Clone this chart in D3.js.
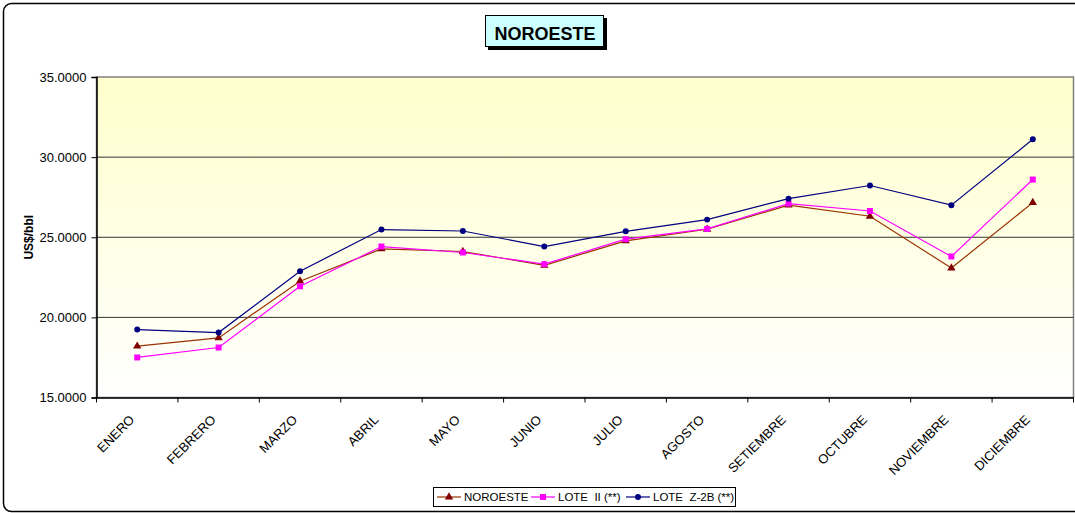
<!DOCTYPE html>
<html>
<head>
<meta charset="utf-8">
<script src="https://cdn.jsdelivr.net/npm/d3@7"></script>
<style>
  body { margin: 0; background: #fff; }
  svg { display: block; font-family: Arial, "Liberation Sans", sans-serif; }
</style>
</head>
<body>
<svg id="chart"></svg>
<script>
// data
const months = ['ENERO', 'FEBRERO', 'MARZO', 'ABRIL', 'MAYO', 'JUNIO', 'JULIO',
  'AGOSTO', 'SETIEMBRE', 'OCTUBRE', 'NOVIEMBRE', 'DICIEMBRE'];
const noroeste = [18.20, 18.72, 22.26, 24.27, 24.11, 23.25, 24.77, 25.50, 27.00, 26.31, 23.08, 27.16];
const loteII = [17.50, 18.12, 21.94, 24.42, 24.05, 23.32, 24.88, 25.52, 27.10, 26.64, 23.80, 28.60];
const loteZ2B = [19.24, 19.05, 22.88, 25.48, 25.39, 24.42, 25.37, 26.10, 27.41, 28.23, 27.00, 31.11];
const yTicks = [15, 20, 25, 30, 35];

const series = [
  { name: 'NOROESTE', values: noroeste, line: '#993300', fill: '#800000', shape: 'triangle' },
  { name: 'LOTE  II (**)', values: loteII, line: '#ff00ff', fill: '#ff00ff', shape: 'square' },
  { name: 'LOTE  Z-2B (**)', values: loteZ2B, line: '#000080', fill: '#000080', shape: 'circle' }
];

// set up constants
const width = 1075;
const height = 513;
const plot = { left: 96.5, right: 1073.5, top: 77, bottom: 397.5 };

const svg = d3.select('#chart')
  .attr('width', width)
  .attr('height', height);

// chart border
svg.append('rect')
  .attr('x', 3.5).attr('y', 3.5)
  .attr('width', 1085).attr('height', 508)
  .attr('rx', 8)
  .attr('fill', '#fff')
  .attr('stroke', '#000')
  .attr('stroke-width', 1.5);

// scales
const xScale = d3.scaleBand()
  .domain(months)
  .range([plot.left, plot.right]);

const yScale = d3.scaleLinear()
  .domain([15, 35])
  .range([plot.bottom, plot.top]);

// plot background gradient
const grad = svg.append('defs').append('linearGradient')
  .attr('id', 'bg')
  .attr('x1', 0).attr('y1', 0).attr('x2', 0).attr('y2', 1);
grad.append('stop').attr('offset', '0%').attr('stop-color', '#ffffcc');
grad.append('stop').attr('offset', '100%').attr('stop-color', '#ffffff');

svg.append('rect')
  .attr('x', plot.left).attr('y', plot.top)
  .attr('width', plot.right - plot.left)
  .attr('height', plot.bottom - plot.top)
  .attr('fill', 'url(#bg)')
  .attr('stroke', '#808080')
  .attr('stroke-width', 1.5);

// gridlines
svg.append('g')
  .selectAll('line')
  .data(yTicks.filter(d => d > 15 && d < 35))
  .enter()
  .append('line')
  .attr('x1', plot.left).attr('x2', plot.right)
  .attr('y1', d => yScale(d)).attr('y2', d => yScale(d))
  .attr('stroke', '#333')
  .attr('stroke-width', 1);

// y axis
const yAxis = d3.axisLeft(yScale)
  .tickValues(yTicks)
  .tickFormat(d3.format('.4f'))
  .tickSize(5)
  .tickPadding(5);

const gy = svg.append('g')
  .attr('transform', `translate(${plot.left}, 0)`)
  .call(yAxis);
gy.select('.domain').attr('stroke', '#000').attr('stroke-width', 1.5);
gy.selectAll('.tick line').attr('stroke', '#000');
gy.selectAll('.tick text')
  .attr('font-size', 13)
  .attr('font-family', 'Arial, "Liberation Sans", sans-serif')
  .attr('fill', '#000');

// x axis
const xAxis = d3.axisBottom(xScale).tickSize(0).tickFormat('');
const gx = svg.append('g')
  .attr('transform', `translate(0, ${plot.bottom})`)
  .call(xAxis);
gx.select('.domain').attr('stroke', '#000').attr('stroke-width', 1.5);

// tick marks between categories
svg.append('g')
  .selectAll('line')
  .data(d3.range(months.length + 1))
  .enter()
  .append('line')
  .attr('x1', i => plot.left + i * xScale.bandwidth())
  .attr('x2', i => plot.left + i * xScale.bandwidth())
  .attr('y1', plot.bottom)
  .attr('y2', plot.bottom + 5)
  .attr('stroke', '#000');

// x labels rotated
svg.append('g')
  .selectAll('text')
  .data(months)
  .enter()
  .append('text')
  .attr('transform', d => `translate(${xScale(d) + xScale.bandwidth() / 2 - 2}, ${plot.bottom + 23}) rotate(-45)`)
  .attr('text-anchor', 'end')
  .attr('font-size', 13)
  .text(d => d);

// y axis title
svg.append('text')
  .attr('transform', `translate(33, ${yScale(25)}) rotate(-90)`)
  .attr('text-anchor', 'middle')
  .attr('font-size', 12)
  .attr('font-weight', 'bold')
  .text('US$/bbl');

// lines and markers
const xPos = (i) => xScale(months[i]) + xScale.bandwidth() / 2;
const lineGen = d3.line()
  .x((d, i) => xPos(i))
  .y(d => yScale(d));

const symbolFor = {
  triangle: d3.symbol().type(d3.symbolTriangle).size(30),
  square: d3.symbol().type(d3.symbolSquare).size(36),
  circle: d3.symbol().type(d3.symbolCircle).size(28)
};

series.forEach(s => {
  svg.append('path')
    .datum(s.values)
    .attr('d', lineGen)
    .attr('fill', 'none')
    .attr('stroke', s.line)
    .attr('stroke-width', 1.2);
});

series.forEach(s => {
  svg.append('g')
    .selectAll('path')
    .data(s.values)
    .enter()
    .append('path')
    .attr('d', symbolFor[s.shape])
    .attr('transform', (d, i) => `translate(${xPos(i)}, ${yScale(d)})`)
    .attr('fill', s.fill);
});

// title box
const title = svg.append('g');
title.append('rect')
  .attr('x', 488).attr('y', 18)
  .attr('width', 119).attr('height', 32)
  .attr('fill', '#000');
title.append('rect')
  .attr('x', 485.5).attr('y', 15.5)
  .attr('width', 118).attr('height', 31)
  .attr('fill', '#ccffff')
  .attr('stroke', '#000')
  .attr('stroke-width', 1);
title.append('text')
  .attr('x', 545).attr('y', 40)
  .attr('text-anchor', 'middle')
  .attr('font-size', 18)
  .attr('font-weight', 'bold')
  .text('NOROESTE');

// legend
const legend = svg.append('g');
legend.append('rect')
  .attr('x', 433.5).attr('y', 487.5)
  .attr('width', 302).attr('height', 19)
  .attr('fill', '#fff')
  .attr('stroke', '#000');

const legendX = [437, 531, 626];
series.forEach((s, i) => {
  const g = legend.append('g').attr('transform', `translate(${legendX[i]}, 497)`);
  g.append('line')
    .attr('x1', 0).attr('x2', 24)
    .attr('stroke', s.line)
    .attr('stroke-width', 1.2);
  g.append('path')
    .attr('d', symbolFor[s.shape])
    .attr('transform', 'translate(12, 0)')
    .attr('fill', s.fill);
  g.append('text')
    .attr('x', 27).attr('y', 4)
    .attr('font-size', 11.5)
    .style('white-space', 'pre')
    .text(s.name);
});
</script>
</body>
</html>
